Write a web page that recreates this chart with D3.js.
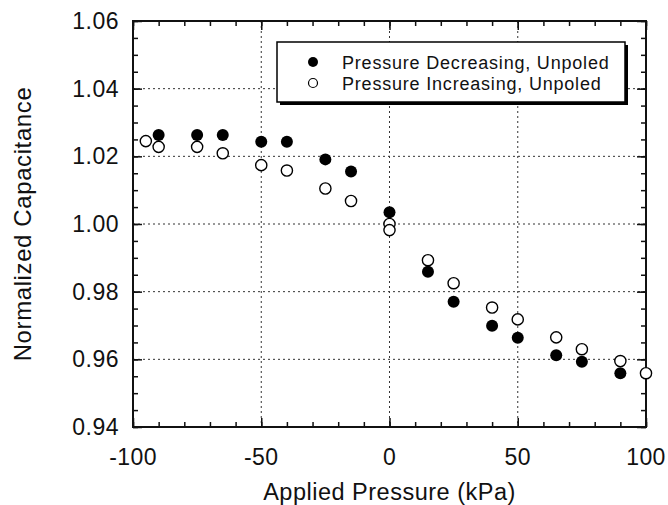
<!DOCTYPE html>
<html>
<head>
<meta charset="utf-8">
<script src="https://cdn.jsdelivr.net/npm/d3@7"></script>
<style>
  body { margin: 0; background: #fff; }
  svg text { font-family: "Liberation Sans", Arial, Helvetica, sans-serif; fill: #111; }
</style>
</head>
<body>
<div id="chart"></div>
<script>
// data
const decPressure = [-90, -75, -65, -50, -40, -25, -15, 0, 15, 25, 40, 50, 65, 75, 90];
const decCap = [1.0263, 1.0263, 1.0263, 1.0243, 1.0243, 1.0191, 1.0155, 1.0035, 0.9859, 0.9770, 0.9699, 0.9664, 0.9612, 0.9593, 0.9559];

const incPressure = [-95, -90, -75, -65, -50, -40, -25, -15, 0, 0, 15, 25, 40, 50, 65, 75, 90, 100];
const incCap = [1.0245, 1.0228, 1.0228, 1.0209, 1.0174, 1.0158, 1.0105, 1.0068, 1.0000, 0.9982, 0.9893, 0.9825, 0.9753, 0.9718, 0.9665, 0.9630, 0.9595, 0.9559];

const xTicks = [-100, -50, 0, 50, 100];
const yTicks = [0.94, 0.96, 0.98, 1.00, 1.02, 1.04, 1.06];
const seriesNames = ["Pressure Decreasing, Unpoled", "Pressure Increasing, Unpoled"];

const W = 668, H = 505;
const margin = { top: 21, right: 22, bottom: 78, left: 133 };
const width = W - margin.left - margin.right;
const height = H - margin.top - margin.bottom;

const svg = d3.select("#chart").append("svg")
    .attr("width", W)
    .attr("height", H);

const g = svg.append("g")
    .attr("transform", `translate(${margin.left},${margin.top})`);

const x = d3.scaleLinear().domain([-100, 100]).range([0, width]);
const y = d3.scaleLinear().domain([0.94, 1.06]).range([height, 0]);

// dotted grid on major ticks
g.selectAll(".gx").data(xTicks.slice(1, -1)).enter().append("line")
    .attr("x1", d => x(d)).attr("x2", d => x(d))
    .attr("y1", 0).attr("y2", height)
    .attr("stroke", "#333").attr("stroke-width", 1)
    .attr("stroke-dasharray", "2,3");
g.selectAll(".gy").data(yTicks.slice(1, -1)).enter().append("line")
    .attr("y1", d => y(d)).attr("y2", d => y(d))
    .attr("x1", 0).attr("x2", width)
    .attr("stroke", "#333").attr("stroke-width", 1)
    .attr("stroke-dasharray", "2,3");

// axes, ticks pointing inward on all four sides
const xMinor = d3.range(-100, 101, 10);
const yMinor = d3.range(0, 25).map(i => 0.94 + i * 0.005);

function tickAxis(axis, sel) {
    sel.call(axis);
    sel.select(".domain").remove();
    sel.selectAll("line").attr("stroke", "#111").attr("stroke-width", 1.5);
}

tickAxis(d3.axisBottom(x).tickValues(xMinor).tickSize(-5).tickFormat(""),
    g.append("g").attr("transform", `translate(0,${height})`));
tickAxis(d3.axisBottom(x).tickValues(xTicks).tickSize(-9).tickFormat(""),
    g.append("g").attr("transform", `translate(0,${height})`));
tickAxis(d3.axisTop(x).tickValues(xMinor).tickSize(-5).tickFormat(""),
    g.append("g"));
tickAxis(d3.axisTop(x).tickValues(xTicks).tickSize(-9).tickFormat(""),
    g.append("g"));
tickAxis(d3.axisLeft(y).tickValues(yMinor).tickSize(-5).tickFormat(""),
    g.append("g"));
tickAxis(d3.axisLeft(y).tickValues(yTicks).tickSize(-9).tickFormat(""),
    g.append("g"));
tickAxis(d3.axisRight(y).tickValues(yMinor).tickSize(-5).tickFormat(""),
    g.append("g").attr("transform", `translate(${width},0)`));
tickAxis(d3.axisRight(y).tickValues(yTicks).tickSize(-9).tickFormat(""),
    g.append("g").attr("transform", `translate(${width},0)`));

// frame
g.append("rect")
    .attr("width", width).attr("height", height)
    .attr("fill", "none").attr("stroke", "#111").attr("stroke-width", 2);

// tick labels
g.selectAll(".xl").data(xTicks).enter().append("text")
    .attr("x", d => x(d))
    .attr("y", height + 38)
    .attr("text-anchor", "middle")
    .style("font-size", "23px")
    .style("letter-spacing", "0.4px")
    .text(d => d);
g.selectAll(".yl").data(yTicks).enter().append("text")
    .attr("x", -14)
    .attr("y", d => y(d) + 8)
    .attr("text-anchor", "end")
    .style("font-size", "23px")
    .style("letter-spacing", "0.5px")
    .text(d => d.toFixed(2));

// axis titles
g.append("text")
    .attr("x", width / 2)
    .attr("y", height + 73)
    .attr("text-anchor", "middle")
    .style("font-size", "23.5px")
    .style("letter-spacing", "0.5px")
    .text("Applied Pressure (kPa)");
g.append("text")
    .attr("transform", `translate(${-102},${y(1.0) - 0}) rotate(-90)`)
    .attr("text-anchor", "middle")
    .style("font-size", "24px")
    .style("letter-spacing", "0.6px")
    .text("Normalized Capacitance");

// points
g.selectAll(".dec").data(decPressure).enter().append("circle")
    .attr("cx", d => x(d))
    .attr("cy", (d, i) => y(decCap[i]))
    .attr("r", 6)
    .attr("fill", "#000");
g.selectAll(".inc").data(incPressure).enter().append("circle")
    .attr("cx", d => x(d))
    .attr("cy", (d, i) => y(incCap[i]))
    .attr("r", 5.6)
    .attr("fill", "#fff")
    .attr("stroke", "#000")
    .attr("stroke-width", 1.4);

// legend
const lx = 277 - margin.left, ly = 42 - margin.top, lw = 348, lh = 60;
g.append("rect")
    .attr("x", lx + 3).attr("y", ly + 3)
    .attr("width", lw).attr("height", lh)
    .attr("fill", "#000");
g.append("rect")
    .attr("x", lx).attr("y", ly)
    .attr("width", lw).attr("height", lh)
    .attr("fill", "#fff").attr("stroke", "#000").attr("stroke-width", 1.5);

seriesNames.forEach((name, i) => {
    const cy = ly + 20 + i * 21;
    g.append("circle")
        .attr("cx", lx + 36).attr("cy", cy)
        .attr("r", i === 0 ? 5 : 4.5)
        .attr("fill", i === 0 ? "#000" : "#fff")
        .attr("stroke", "#000").attr("stroke-width", i === 0 ? 0 : 1.2);
    g.append("text")
        .attr("x", lx + 65).attr("y", cy + 7)
        .style("font-size", "18px")
        .style("letter-spacing", "0.8px")
        .text(name);
});
</script>
</body>
</html>
